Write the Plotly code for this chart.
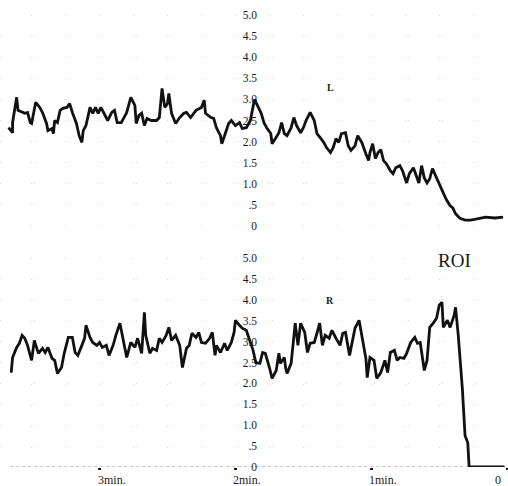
import plotly.graph_objects as go

# Time before end of study (minutes) and count rate for the left ROI curve
l_time = [3.67, 3.64, 3.64, 3.61, 3.60, 3.57, 3.55, 3.53, 3.51, 3.50, 3.47, 3.44, 3.42, 3.39,
          3.38, 3.35, 3.34, 3.33, 3.31, 3.29, 3.27, 3.24, 3.22, 3.20, 3.17, 3.15, 3.13, 3.12,
          3.10, 3.07, 3.05, 3.03, 3.01, 2.99, 2.96, 2.94, 2.91, 2.89, 2.87, 2.84, 2.82, 2.80,
          2.77, 2.74, 2.73, 2.71, 2.69, 2.67, 2.65, 2.62, 2.58, 2.56, 2.54, 2.52, 2.50, 2.49,
          2.47, 2.44, 2.41, 2.38, 2.36, 2.33, 2.29, 2.25, 2.23, 2.22, 2.18, 2.16, 2.14, 2.11,
          2.10, 2.07, 2.05, 2.03, 2.00, 1.97, 1.95, 1.92, 1.89, 1.86, 1.84, 1.81, 1.79, 1.77,
          1.74, 1.73, 1.70, 1.68, 1.66, 1.64, 1.62, 1.59, 1.57, 1.55, 1.52, 1.50, 1.48, 1.45,
          1.42, 1.40, 1.37, 1.35, 1.33, 1.30, 1.28, 1.26, 1.24, 1.22, 1.19, 1.17, 1.15, 1.12,
          1.10, 1.07, 1.04, 1.02, 1.01, 0.99, 0.97, 0.95, 0.93, 0.91, 0.89, 0.86, 0.84, 0.82,
          0.79, 0.77, 0.74, 0.72, 0.69, 0.67, 0.65, 0.63, 0.61, 0.59, 0.57, 0.55, 0.52, 0.49,
          0.47, 0.45, 0.42, 0.40, 0.38, 0.35, 0.31, 0.27, 0.22, 0.16, 0.09, 0.03]
l_count = [2.33, 2.21, 2.45, 3.05, 2.74, 2.69, 2.67, 2.69, 2.45, 2.43, 2.93, 2.81, 2.69, 2.43,
           2.26, 2.31, 2.19, 2.50, 2.45, 2.74, 2.79, 2.81, 2.90, 2.69, 2.43, 2.14, 1.98, 2.26,
           2.38, 2.81, 2.67, 2.81, 2.67, 2.81, 2.62, 2.50, 2.69, 2.74, 2.45, 2.45, 2.57, 2.69,
           3.05, 2.86, 2.43, 2.62, 2.67, 2.38, 2.55, 2.50, 2.50, 2.57, 3.26, 2.81, 2.90, 3.14,
           2.67, 2.43, 2.57, 2.67, 2.69, 2.57, 2.74, 2.81, 2.98, 2.67, 2.57, 2.55, 2.33, 2.14,
           1.95, 2.26, 2.43, 2.50, 2.38, 2.45, 2.31, 2.33, 2.50, 3.00, 2.86, 2.67, 2.45, 2.33,
           2.19, 1.95, 2.10, 2.21, 2.45, 2.19, 2.14, 2.33, 2.57, 2.38, 2.21, 2.33, 2.50, 2.69,
           2.50, 2.19, 2.07, 1.98, 1.86, 1.74, 1.86, 2.07, 1.98, 2.19, 2.21, 1.90, 1.79, 1.90,
           2.14, 1.98, 1.71, 1.55, 1.74, 1.95, 1.60, 1.74, 1.81, 1.55, 1.48, 1.31, 1.24, 1.38,
           1.43, 1.31, 1.02, 1.24, 1.38, 1.19, 1.02, 1.43, 1.14, 1.02, 1.12, 1.36, 1.14, 0.90,
           0.79, 0.64, 0.48, 0.43, 0.29, 0.19, 0.14, 0.14, 0.17, 0.21, 0.19, 0.21]

# Time before end of study (minutes) and count rate for the right ROI curve
r_time = [3.65, 3.64, 3.61, 3.59, 3.57, 3.55, 3.53, 3.50, 3.48, 3.45, 3.42, 3.40, 3.38, 3.35,
          3.33, 3.31, 3.28, 3.26, 3.23, 3.20, 3.18, 3.16, 3.13, 3.11, 3.10, 3.07, 3.05, 3.02,
          3.00, 2.98, 2.95, 2.93, 2.90, 2.88, 2.85, 2.83, 2.82, 2.80, 2.77, 2.74, 2.72, 2.69,
          2.67, 2.66, 2.63, 2.61, 2.58, 2.56, 2.54, 2.51, 2.49, 2.47, 2.44, 2.41, 2.39, 2.36,
          2.34, 2.32, 2.29, 2.27, 2.25, 2.22, 2.19, 2.17, 2.15, 2.14, 2.11, 2.08, 2.06, 2.03,
          2.01, 2.00, 1.97, 1.95, 1.92, 1.87, 1.85, 1.82, 1.80, 1.78, 1.75, 1.73, 1.70, 1.68,
          1.67, 1.64, 1.63, 1.62, 1.59, 1.56, 1.54, 1.52, 1.49, 1.47, 1.45, 1.42, 1.40, 1.38,
          1.36, 1.34, 1.31, 1.29, 1.26, 1.23, 1.21, 1.19, 1.16, 1.14, 1.12, 1.09, 1.07, 1.04,
          1.03, 1.01, 0.98, 0.96, 0.93, 0.90, 0.88, 0.86, 0.83, 0.81, 0.79, 0.76, 0.74, 0.71,
          0.68, 0.66, 0.64, 0.61, 0.59, 0.57, 0.54, 0.52, 0.50, 0.48, 0.47, 0.44, 0.42, 0.39,
          0.38, 0.36, 0.33, 0.31, 0.29, 0.28, 0.16, 0.02]
r_count = [2.26, 2.62, 2.86, 2.96, 3.15, 3.08, 2.91, 2.55, 3.03, 2.72, 2.84, 2.74, 2.86, 2.60,
           2.55, 2.24, 2.38, 2.72, 3.10, 3.10, 2.74, 2.67, 2.91, 3.08, 3.39, 3.10, 2.98, 2.91,
           2.98, 2.86, 2.91, 2.67, 2.91, 3.15, 3.44, 3.08, 2.91, 2.62, 2.98, 2.86, 3.08, 2.72,
           3.70, 3.15, 2.72, 2.84, 2.79, 3.08, 2.98, 3.15, 3.34, 3.03, 3.15, 2.91, 2.38, 2.84,
           2.91, 3.20, 3.10, 3.22, 2.98, 2.96, 3.08, 3.22, 2.67, 2.91, 2.74, 2.96, 2.79, 2.98,
           3.22, 3.51, 3.39, 3.32, 3.27, 2.79, 2.50, 2.48, 2.74, 2.72, 2.38, 2.12, 2.31, 2.72,
           2.48, 2.62, 2.36, 2.24, 2.48, 3.44, 2.91, 3.44, 3.22, 2.74, 2.96, 2.98, 3.20, 3.44,
           2.91, 3.15, 3.08, 3.27, 3.08, 2.91, 3.20, 3.22, 2.67, 2.96, 3.32, 3.51, 3.15, 2.60,
           2.14, 2.62, 2.55, 2.12, 2.26, 2.55, 2.26, 2.74, 2.79, 2.55, 2.62, 2.60, 2.72, 2.98,
           3.10, 2.96, 2.98, 2.31, 2.55, 3.34, 3.46, 3.56, 3.87, 3.94, 3.34, 3.51, 3.34, 3.63,
           3.82, 3.15, 1.88, 0.75, 0.58, 0.00, 0.00, 0.00]

y_ticks = [0, 0.5, 1.0, 1.5, 2.0, 2.5, 3.0, 3.5, 4.0, 4.5, 5.0]
y_tick_text = ["0", ".5", "1.0", "1.5", "2.0", "2.5", "3.0", "3.5", "4.0", "4.5", "5.0"]
x_ticks = [3, 2, 1, 0]
x_tick_text = ["3min.", "2min.", "1min.", "0"]

W, H = 508, 486
SERIF = "Liberation Serif, Times New Roman, serif"
INK = "#1a1a1a"
GRID = "#d6d6d6"
t_left, t_right = 3.7326, -0.006

fig = go.Figure()
fig.add_trace(go.Scatter(x=l_time, y=l_count, mode="lines", xaxis="x2", yaxis="y2",
                         line=dict(color="#111", width=2.8), showlegend=False))
fig.add_trace(go.Scatter(x=r_time, y=r_count, mode="lines", xaxis="x", yaxis="y",
                         line=dict(color="#111", width=2.8), showlegend=False))

x_common = dict(range=[t_left, t_right], showgrid=False, zeroline=False, showline=False,
                tickvals=x_ticks, showticklabels=False, automargin=False,
                minor=dict(dtick=0.25, showgrid=True, gridcolor=GRID, griddash="1px,20px",
                           gridwidth=1))
y_common = dict(range=[0, 5], tickvals=y_ticks, ticktext=y_tick_text, ticks="",
                showline=False, zeroline=False, showgrid=True, gridcolor=GRID,
                griddash="1px,33px", anchor="free", position=0.506, automargin=False,
                tickfont=dict(family=SERIF, size=11.5, color=INK))

fig.update_layout(
    width=W, height=H, autosize=False,
    margin=dict(l=0, r=0, t=0, b=0, pad=0, autoexpand=False),
    paper_bgcolor="white", plot_bgcolor="white",
    xaxis=dict(**x_common, anchor="y", ticks="outside", ticklen=2, tickwidth=3,
               tickcolor=INK),
    xaxis2=dict(**x_common, anchor="y2", matches="x", ticks=""),
    yaxis=dict(**y_common, domain=[1 - 467 / H, 1 - 258 / H]),
    yaxis2=dict(**y_common, domain=[1 - 226 / H, 1 - 15 / H]),
)

# dotted baseline of the lower panel
fig.add_shape(type="line", xref="paper", yref="y", x0=0.02, x1=1, y0=0, y1=0,
              line=dict(color="#8a8a8a", width=1, dash="dot"), layer="below")

# time labels sit just right of their tick marks
for t, label in zip(x_ticks, x_tick_text):
    fig.add_annotation(x=t, xref="x", y=1 - 479.5 / H, yref="paper", text=label,
                       showarrow=False, xanchor="right" if t == 0 else "left",
                       xshift=-4, yanchor="middle",
                       font=dict(family=SERIF, size=12, color=INK))

fig.add_annotation(x=330 / W, xref="paper", y=1 - 80 / H, yref="paper", text="<b>L</b>",
                   showarrow=False, font=dict(family=SERIF, size=10, color=INK))
fig.add_annotation(x=330 / W, xref="paper", y=1 - 300 / H, yref="paper", text="<b>R</b>",
                   showarrow=False, font=dict(family=SERIF, size=10, color=INK))
fig.add_annotation(x=473 / W, xref="paper", y=1 - 260 / H, yref="paper", text="ROI",
                   showarrow=False, font=dict(family=SERIF, size=19, color=INK))

fig.write_html("out.html")
